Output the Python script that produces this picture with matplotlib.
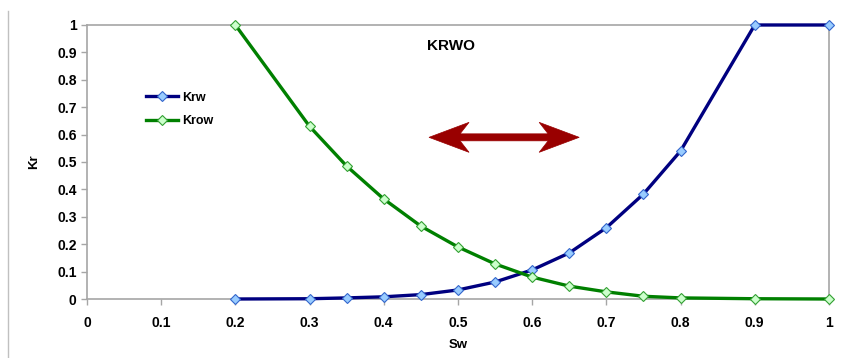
import matplotlib
matplotlib.use("Agg")
import matplotlib.pyplot as plt
from matplotlib.lines import Line2D
from matplotlib.patches import Polygon

plt.rcParams["font.family"] = ["Liberation Sans", "DejaVu Sans"]

sw = [0.2, 0.3, 0.35, 0.4, 0.45, 0.5, 0.55, 0.6, 0.65, 0.7, 0.75, 0.8, 0.9, 1.0]
krw = [0.0, 0.001, 0.004, 0.008, 0.016, 0.033, 0.062, 0.106, 0.168, 0.26, 0.383, 0.54, 1.0, 1.0]
krow = [1.0, 0.63, 0.485, 0.365, 0.266, 0.19, 0.128, 0.08, 0.047, 0.026, 0.01, 0.004, 0.001, 0.0]
ticks = [0, 0.1, 0.2, 0.3, 0.4, 0.5, 0.6, 0.7, 0.8, 0.9, 1]
tick_labels = ["0", "0.1", "0.2", "0.3", "0.4", "0.5", "0.6", "0.7", "0.8", "0.9", "1"]

fig = plt.figure(figsize=(8.46, 3.58), dpi=100)
ax = fig.add_axes([0.1028, 0.1648, 0.877, 0.7654])

ax.plot(sw, krw, color="#000080", lw=2.4, marker="D", ms=5,
        mfc="#99ccff", mec="#3366cc", mew=0.8, label="Krw", clip_on=False, zorder=3)
ax.plot(sw, krow, color="#008000", lw=2.4, marker="D", ms=5,
        mfc="#ccffcc", mec="#33a033", mew=0.8, label="Krow", clip_on=False, zorder=3)

ax.set_xlim(0, 1)
ax.set_ylim(0, 1)
ax.set_xticks(ticks)
ax.set_xticklabels(tick_labels)
ax.set_yticks(ticks)
ax.set_yticklabels(tick_labels)
for s in ax.spines.values():
    s.set_color("#a6a6a6")
    s.set_linewidth(1.2)
ax.tick_params(colors="#a6a6a6", length=4, width=1, labelcolor="black",
               labelsize=10)
ax.tick_params(axis="x", pad=8)
for lab in ax.get_xticklabels() + ax.get_yticklabels():
    lab.set_fontweight("bold")

ax.set_xlabel("Sw", fontsize=9.5, fontweight="bold", labelpad=7)
ax.set_ylabel("Kr", fontsize=9.5, fontweight="bold", labelpad=12)

ax.text(0.49, 0.925, "KRWO", fontsize=11, fontweight="bold", ha="center", va="center")

ax.legend(loc="upper left", bbox_to_anchor=(0.064, 0.797), frameon=False,
          prop={"weight": "bold", "size": 9}, handlelength=2.6,
          handletextpad=0.3, labelspacing=0.9)

# double-headed arrow with swept-back heads, drawn in pixel offsets
px_x = 1 / 741
px_y = 1 / 274
x0, y0, length = 0.461, 0.59, 150
shape = [(0, 0), (40, 15), (31, 3.5), (length - 31, 3.5), (length - 40, 15),
         (length, 0), (length - 40, -15), (length - 31, -3.5), (31, -3.5), (40, -15)]
pts = [(x0 + u * px_x, y0 + v * px_y) for u, v in shape]
ax.add_patch(Polygon(pts, closed=True, facecolor="#990000", edgecolor="#990000",
                     lw=0.5, zorder=4))

fig.add_artist(Line2D([0.0095, 0.0095], [0.0, 0.97], transform=fig.transFigure,
                      color="#c0c0c0", lw=1))

fig.savefig("out.png", dpi=100)
